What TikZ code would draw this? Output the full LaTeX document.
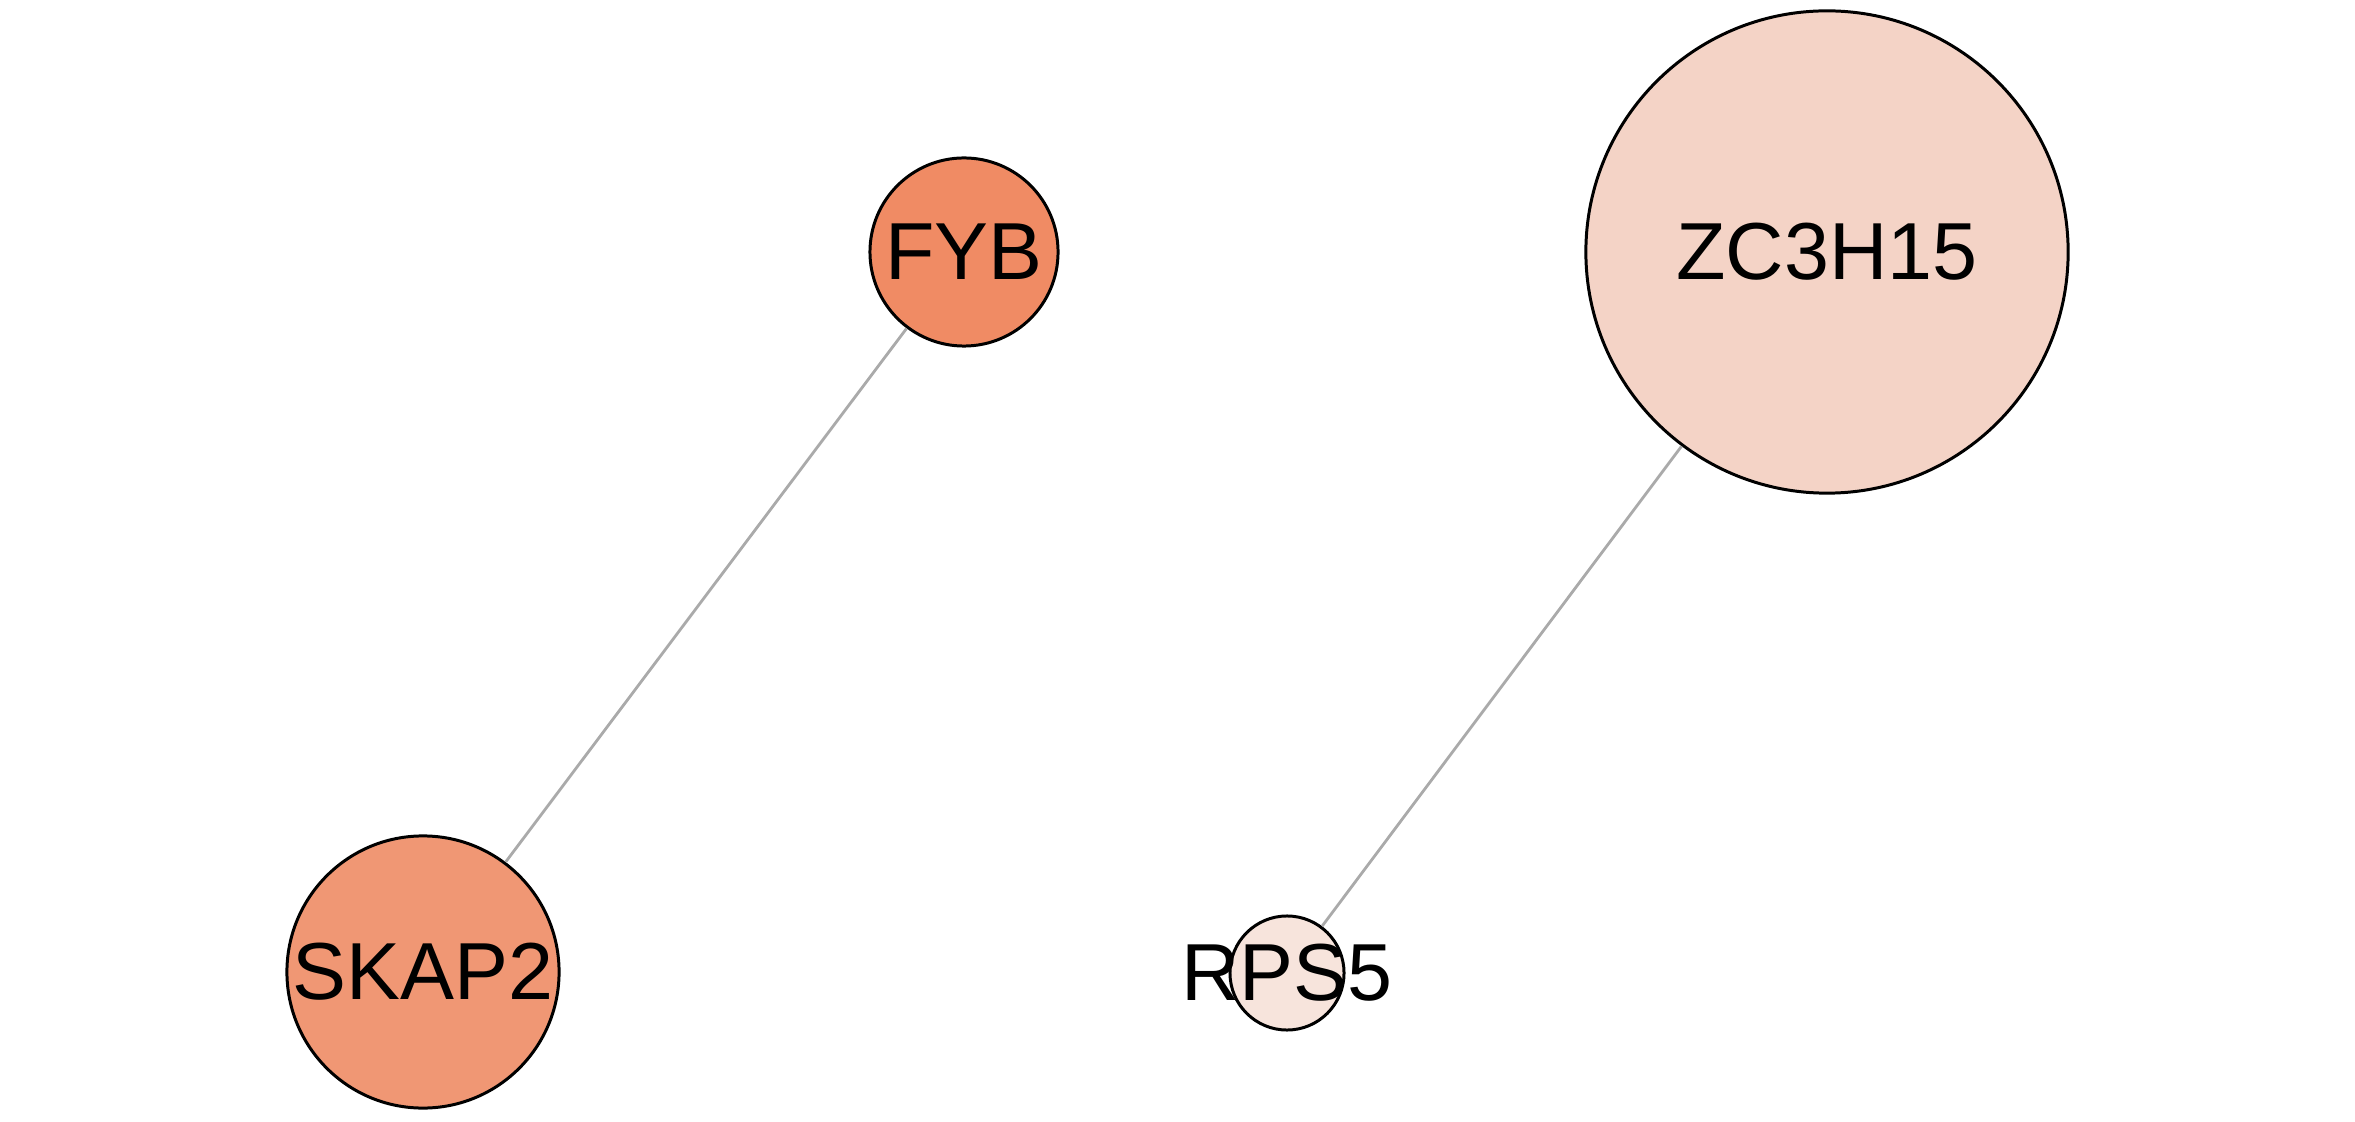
\documentclass[tikz,border=0pt]{standalone}
\usepackage{fontspec}
\setmainfont{Liberation Sans}
\usepackage{tikz}
\usetikzlibrary{positioning}
\definecolor{fybcol}{HTML}{F08B64}
\definecolor{skapcol}{HTML}{F09774}
\definecolor{zccol}{HTML}{F4D3C6}
\definecolor{rpscol}{HTML}{F7E4DC}
\definecolor{edgecol}{HTML}{AAAAAA}
\tikzset{
    gene/.style={draw, circle, inner sep=0pt, draw=black, line width=0.85pt, label={[font=\fontsize{23}{28}\selectfont, text=black]center:#1}},
    edge/.style={line width=0.8pt, draw=edgecol}
}
\begin{document}
\begin{tikzpicture}[x=0.01cm, y=-0.01cm]
        \useasboundingbox (0,0) rectangle (2355,1122);

        % Nodi
        \node (fyb) [gene=FYB, fill=fybcol, minimum size=1.88cm] at (964,252) {};
        \node (zc3h15) [gene=ZC3H15, fill=zccol, minimum size=4.82cm] at (1827,252) {};
        \node (skap2) [gene=SKAP2, fill=skapcol, minimum size=2.72cm] at (423,972) {};
        \node (rps5) [gene=RPS5, fill=rpscol, minimum size=1.14cm] at (1287,973) {};

        % Archi
        \draw [edge] (skap2) -- (fyb);
        \draw [edge] (rps5) -- (zc3h15);

    \end{tikzpicture}
\end{document}
